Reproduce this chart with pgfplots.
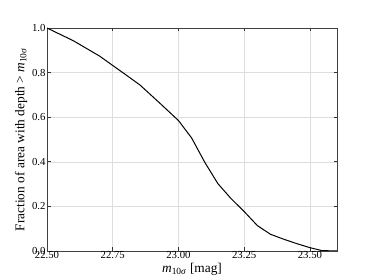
\documentclass[border=0pt]{standalone}
\usepackage{pgfplots}
\pgfplotsset{compat=1.18}
\usepackage{fontspec}
\setmainfont{Liberation Serif}
\newcommand{\msig}{\textit{m}\textsubscript{\fontsize{9.5}{10}\selectfont 10\textit{σ}}}
\begin{document}
\begin{tikzpicture}
\begin{axis}[
  at={(0,0)}, anchor=south west,
  scale only axis,
  width=290bp, height=223bp,
  xmin=22.5, xmax=23.603,
  ymin=0, ymax=1,
  xtick={22.5,22.75,23.0,23.25,23.5},
  ytick={0,0.2,0.4,0.6,0.8,1.0},
  xticklabel style={/pgf/number format/fixed,/pgf/number format/fixed zerofill,/pgf/number format/precision=2},
  yticklabel style={/pgf/number format/fixed,/pgf/number format/fixed zerofill,/pgf/number format/precision=1},
  /pgf/number format/assume math mode=true,
  tick label style={font=\fontsize{10.8}{11}\selectfont},
  label style={font=\fontsize{13.4}{14}\selectfont},
  xticklabel shift=-3pt,
  yticklabel shift=-2pt,
  tick align=inside,
  tick pos=both,
  major tick length=3.5bp,
  grid=major,
  major grid style={draw=black!13, line width=0.5bp},
  axis line style={draw=black!75, line width=0.8bp},
  every tick/.style={draw=black!80, line width=0.8bp},
  xlabel={\msig{} [mag]},
  ylabel={Fraction of area with depth > \msig},
  xlabel style={yshift=2.5pt},
  ylabel style={yshift=-2pt},
]
\addplot[black, line width=1bp, mark=none] coordinates {
(22.50,1.000)
(22.60,0.943)
(22.70,0.874)
(22.80,0.790)
(22.854,0.744)
(22.93,0.662)
(22.95,0.640)
(23.00,0.585)
(23.05,0.507)
(23.10,0.398)
(23.15,0.302)
(23.20,0.235)
(23.25,0.177)
(23.30,0.114)
(23.35,0.075)
(23.40,0.053)
(23.45,0.033)
(23.50,0.015)
(23.545,0.002)
(23.603,0.000)
};
\end{axis}
\pgfresetboundingbox
\useasboundingbox (-47bp,-29bp) rectangle (327bp,251bp);
\end{tikzpicture}
\end{document}
